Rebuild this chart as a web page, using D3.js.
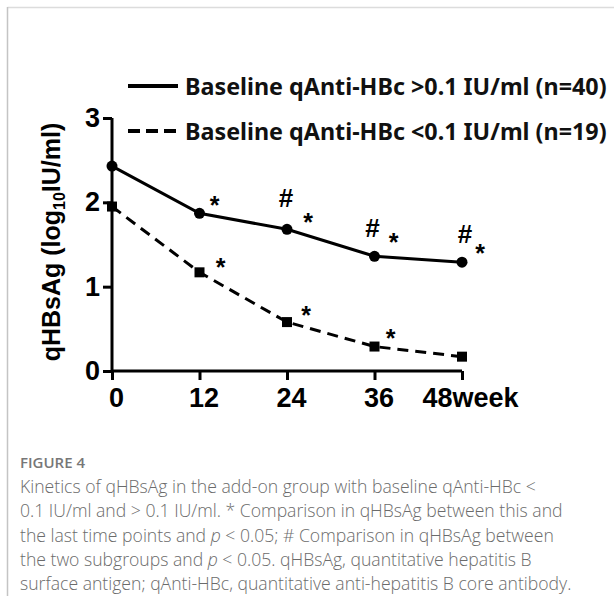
<!DOCTYPE html>
<html><head><meta charset="utf-8">
<script src="https://cdn.jsdelivr.net/npm/d3@7"></script>
<style>
html,body{margin:0;padding:0;background:#fff;}
svg{display:block;}
</style></head>
<body>
<svg id="chart" width="614" height="596"></svg>
<script>
// ---- data ----
const weeks = [0, 12, 24, 36, 48];
const xTickLabels = ["0", "12", "24", "36", "48week"];
const yTicks = [0, 1, 2, 3];
const highGroup = [2.43, 1.87, 1.68, 1.36, 1.29];   // qAnti-HBc > 0.1
const lowGroup  = [1.95, 1.17, 0.58, 0.29, 0.17];   // qAnti-HBc < 0.1
const highMarks = ["", "*", "#*", "#*", "#*"];
const lowMarks  = ["", "*", "*", "*", ""];
const legendLabels = ["Baseline qAnti-HBc >0.1 IU/ml (n=40)", "Baseline qAnti-HBc <0.1 IU/ml (n=19)"];
const captionTitle = "FIGURE 4";
const captionLines = [
  "Kinetics of qHBsAg in the add-on group with baseline qAnti-HBc <",
  "0.1 IU/ml and > 0.1 IU/ml. * Comparison in qHBsAg between this and",
  "the last time points and |p| < 0.05; # Comparison in qHBsAg between",
  "the two subgroups and |p| < 0.05. qHBsAg, quantitative hepatitis B",
  "surface antigen; qAnti-HBc, quantitative anti-hepatitis B core antibody."
];

const svg = d3.select("#chart");
const x = d3.scaleLinear().domain([0, 48]).range([112, 462]);
const y = d3.scaleLinear().domain([0, 3]).range([371, 118]);
const AX = "Liberation Sans, Arial, sans-serif";

// frame
svg.append("line").attr("x1", 7.5).attr("x2", 614).attr("y1", 7.5).attr("y2", 7.5).attr("stroke", "#dcdcdc").attr("stroke-width", 1.5);
svg.append("line").attr("x1", 7.5).attr("x2", 7.5).attr("y1", 7).attr("y2", 596).attr("stroke", "#c4c4c4").attr("stroke-width", 1.5);

// axes
const yAxis = svg.append("g").attr("transform", `translate(${x(0)},0)`)
  .call(d3.axisLeft(y).tickValues(yTicks).tickFormat(d3.format("d")).tickSize(9).tickPadding(3));
const xAxis = svg.append("g").attr("transform", `translate(0,${y(0)})`)
  .call(d3.axisBottom(x).tickValues(weeks).tickFormat((d, i) => xTickLabels[i]).tickSize(9).tickPadding(8));
[yAxis, xAxis].forEach(g => {
  g.select(".domain").attr("stroke", "#000").attr("stroke-width", 3);
  g.selectAll(".tick line").attr("stroke", "#000").attr("stroke-width", 3);
  g.selectAll(".tick text").attr("fill", "#000").attr("font-family", AX).attr("font-weight", "bold").attr("font-size", 27);
});
xAxis.select(".domain").attr("d", `M${x(0)},0H${x(48)}`);
yAxis.select(".domain").attr("d", `M0,${y(3)}V${y(0)}`);
xAxis.selectAll(".tick text").attr("dy", "0.72em").attr("dx", 4);
// "48week" tick label
xAxis.selectAll(".tick text").filter((d, i) => i === 4).attr("text-anchor", "start").attr("x", -40).attr("dx", 0);

// y label
svg.append("text")
  .attr("transform", `translate(60,242) rotate(-90)`)
  .attr("text-anchor", "middle")
  .attr("font-family", AX).attr("font-weight", "bold").attr("font-size", 25)
  .call(t => {
    t.append("tspan").text("qHBsAg (log");
    t.append("tspan").attr("font-size", 16).attr("dy", 5).text("10");
    t.append("tspan").attr("dy", -5).text("IU/ml)");
  });

// lines
const line = d3.line().x((d, i) => x(weeks[i])).y(d => y(d));
svg.append("path").datum(highGroup).attr("d", line).attr("fill", "none").attr("stroke", "#000").attr("stroke-width", 3);
svg.append("path").datum(lowGroup).attr("d", line).attr("fill", "none").attr("stroke", "#000").attr("stroke-width", 3).attr("stroke-dasharray", "11,7");

svg.selectAll(".dot").data(highGroup).join("circle")
  .attr("cx", (d, i) => x(weeks[i])).attr("cy", d => y(d)).attr("r", 5.5).attr("fill", "#000");
svg.selectAll(".sq").data(lowGroup).join("rect")
  .attr("x", (d, i) => x(weeks[i]) - 5).attr("y", d => y(d) - 5).attr("width", 10).attr("height", 10).attr("fill", "#000");

// significance marks
const starOff = {high: [null, [15, -13], [21, -12], [19, -19], [18, -14]], low: [null, [21, -10], [19, -12], [16, -14], null]};
const hashOff = [null, null, [-1, -32], [-2, -29], [3, -29]];
function marks(vals, labels, key) {
  vals.forEach((v, i) => {
    const px = x(weeks[i]), py = y(v), lab = labels[i];
    if (lab.includes("*")) {
      const o = starOff[key][i];
      svg.append("text").attr("x", px + o[0]).attr("y", py + o[1] + 14).attr("text-anchor", "middle")
        .attr("font-family", AX).attr("font-weight", "bold").attr("font-size", 25).text("*");
    }
    if (lab.includes("#")) {
      const o = hashOff[i];
      svg.append("text").attr("x", px + o[0]).attr("y", py + o[1] + 10).attr("text-anchor", "middle")
        .attr("font-family", AX).attr("font-weight", "bold").attr("font-size", 26).text("#");
    }
  });
}
marks(highGroup, highMarks, "high");
marks(lowGroup, lowMarks, "low");

// legend
const lg = svg.append("g");
legendLabels.forEach((lab, i) => {
  const ly = 86 + i * 45;
  lg.append("line").attr("x1", 128).attr("x2", 178).attr("y1", ly).attr("y2", ly)
    .attr("stroke", "#000").attr("stroke-width", 4).attr("stroke-dasharray", i ? "12,6" : null);
  lg.append("text").attr("x", 185).attr("y", ly + 8.5).attr("font-family", "Noto Sans, sans-serif")
    .attr("font-weight", "bold").attr("font-size", 23.3).attr("fill", "#111").text(lab);
});

// caption
const cap = svg.append("g").attr("font-family", "Open Sans, sans-serif").attr("fill", "#6b6b6b");
cap.append("text").attr("x", 20).attr("y", 468).attr("font-size", 15).attr("font-weight", "600").attr("fill", "#777").text(captionTitle);
captionLines.forEach((ln, i) => {
  const t = cap.append("text").attr("x", 20).attr("y", 493 + i * 24.3).attr("font-size", 17.6).attr("font-weight", "300");
  ln.split("|").forEach((part, j) => {
    const s = t.append("tspan").text(part);
    if (j % 2 === 1) s.attr("font-style", "italic");
  });
});
</script>
</body></html>
